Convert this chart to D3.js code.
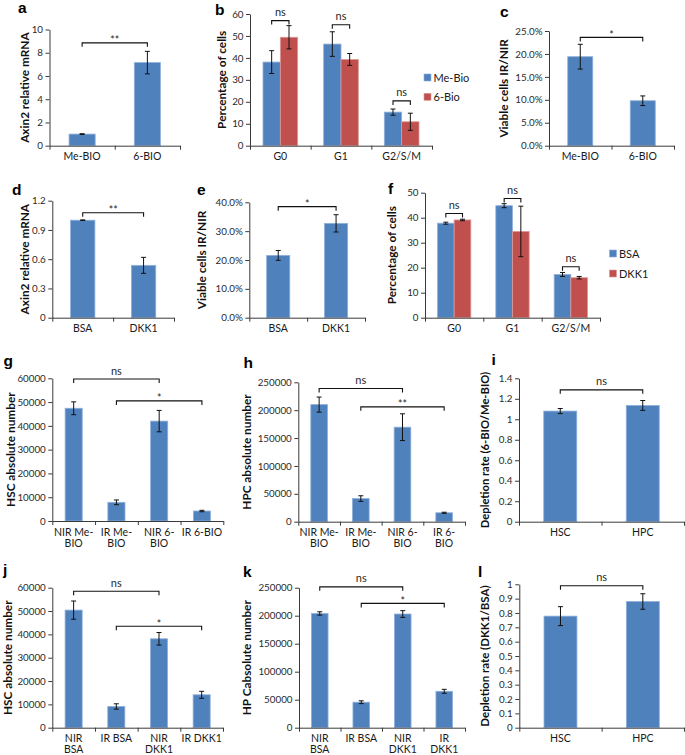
<!DOCTYPE html>
<html><head><meta charset="utf-8">
<script src="https://cdn.jsdelivr.net/npm/d3@7"></script>
<style>
body{margin:0;background:#fff;}
svg{display:block;font-family:Lato,"Open Sans",sans-serif;}
</style></head><body>
<svg id="fig" width="685" height="755"></svg>
<script>
// ---------- DATA ----------
const blue = "#4F81BD", red = "#C0504D";

// a
const aCats = [["Me-BIO"], ["6-BIO"]];
const aVals = [1.0, 7.15];
const aErr = [0.03, 0.97];
const aTicks = [0, 2, 4, 6, 8, 10];
const aSig = [{from: 0, to: 1, y: 8.85, t: "**"}];
// b
const bCats = [["G0"], ["G1"], ["G2/S/M"]];
const bSeries = ["Me-Bio", "6-Bio"];
const bMe = [38.1, 46.3, 15.3];
const bMeErr = [5.2, 5.6, 1.4];
const b6 = [49.4, 39.3, 10.9];
const b6Err = [5.3, 2.7, 3.9];
const bTicks = [0, 10, 20, 30, 40, 50, 60];
const bSig = [{cat: 0, y: 57.0, t: "ns"}, {cat: 1, y: 55.1, t: "ns"}, {cat: 2, y: 20.4, t: "ns"}];
// c
const cCats = [["Me-BIO"], ["6-BIO"]];
const cVals = [0.194, 0.098];
const cErr = [0.027, 0.0105];
const cTicks = [0, 0.05, 0.10, 0.15, 0.20, 0.25];
const cSig = [{from: 0, to: 1, y: 0.236, t: "*"}];
// d
const dCats = [["BSA"], ["DKK1"]];
const dVals = [1.0, 0.537];
const dErr = [0.003, 0.082];
const dTicks = [0, 0.3, 0.6, 0.9, 1.2];
const dSig = [{from: 0, to: 1, y: 1.077, t: "**"}];
// e
const eCats = [["BSA"], ["DKK1"]];
const eVals = [0.216, 0.327];
const eErr = [0.017, 0.030];
const eTicks = [0, 0.1, 0.2, 0.3, 0.4];
const eSig = [{from: 0, to: 1, y: 0.385, t: "*"}];
// f
const fCats = [["G0"], ["G1"], ["G2/S/M"]];
const fSeries = ["BSA", "DKK1"];
const fBSA = [37.8, 44.8, 17.3];
const fBSAErr = [0.4, 0.8, 0.8];
const fDKK1 = [39.1, 34.5, 16.0];
const fDKK1Err = [0.3, 10.1, 0.5];
const fTicks = [0, 10, 20, 30, 40, 50];
const fSig = [{cat: 0, y: 41.7, t: "ns"}, {cat: 1, y: 47.7, t: "ns"}, {cat: 2, y: 20.4, t: "ns"}];
// g
const gCats = [["NIR Me-", "BIO"], ["IR Me-", "BIO"], ["NIR 6-", "BIO"], ["IR 6-BIO"]];
const gVals = [47400, 7850, 42000, 4200];
const gErr = [2700, 1000, 4500, 300];
const gTicks = [0, 10000, 20000, 30000, 40000, 50000, 60000];
const gSig = [{from: 0, to: 2, y: 59700, t: "ns"}, {from: 1, to: 3, y: 50500, t: "*"}];
// h
const hCats = [["NIR Me-", "BIO"], ["IR Me-", "BIO"], ["NIR 6-", "BIO"], ["IR 6-", "BIO"]];
const hVals = [210000, 41500, 169500, 16000];
const hErr = [13500, 5000, 24000, 1000];
const hTicks = [0, 50000, 100000, 150000, 200000, 250000];
const hSig = [{from: 0, to: 2, y: 239000, t: "ns"}, {from: 1, to: 3, y: 206000, t: "**"}];
// i
const iCats = [["HSC"], ["HPC"]];
const iVals = [1.08, 1.135];
const iErr = [0.025, 0.048];
const iTicks = [0, 0.2, 0.4, 0.6, 0.8, 1.0, 1.2, 1.4];
const iSig = [{from: 0, to: 1, y: 1.287, t: "ns"}];
// j
const jCats = [["NIR", "BSA"], ["IR BSA"], ["NIR", "DKK1"], ["IR DKK1"]];
const jVals = [50400, 9100, 38100, 14100];
const jErr = [3900, 1150, 2700, 1500];
const jTicks = [0, 10000, 20000, 30000, 40000, 50000, 60000];
const jSig = [{from: 0, to: 2, y: 58500, t: "ns"}, {from: 1, to: 3, y: 43500, t: "*"}];
// k
const kCats = [["NIR", "BSA"], ["IR BSA"], ["NIR", "DKK1"], ["IR", "DKK1"]];
const kVals = [204000, 45500, 203000, 65000];
const kErr = [3000, 2500, 6000, 3500];
const kTicks = [0, 50000, 100000, 150000, 200000, 250000];
const kSig = [{from: 0, to: 2, y: 251500, t: "ns"}, {from: 1, to: 3, y: 222000, t: "*"}];
// l
const lCats = [["HSC"], ["HPC"]];
const lVals = [0.778, 0.88];
const lErr = [0.066, 0.054];
const lTicks = [0, 0.1, 0.2, 0.3, 0.4, 0.5, 0.6, 0.7, 0.8, 0.9, 1.0];
const lSig = [{from: 0, to: 1, y: 0.99, t: "ns"}];

// ---------- DRAWING ----------
const svg = d3.select("#fig");
const numFmt = d => String(+d.toFixed(2));
const pctFmt = d3.format(".1%");

function panel(o) {
  const g = svg.append("g");
  const y = d3.scaleLinear().domain([0, d3.max(o.ticks)]).range([o.yBot, o.yTop]);
  const n = o.cats.length;
  const xb = d3.scaleBand().domain(d3.range(n)).range([o.x0, o.x1]);
  const xl = d3.scaleLinear().domain([0, n]).range([o.x0, o.x1]);
  const ns = o.series.length;
  const groupW = xb.bandwidth() * (ns === 1 ? 0.4 : 2 / 3.5);
  const xs = d3.scaleBand().domain(d3.range(ns)).range([-groupW / 2, groupW / 2]);
  const cx = (i, si) => xb(i) + xb.bandwidth() / 2 + xs(si) + xs.bandwidth() / 2;

  o.series.forEach((s, si) => {
    g.append("g").selectAll("rect").data(s.vals).join("rect")
      .attr("x", (d, i) => xb(i) + xb.bandwidth() / 2 + xs(si))
      .attr("width", xs.bandwidth())
      .attr("y", d => y(d)).attr("height", d => y(0) - y(d))
      .attr("fill", s.color).attr("stroke", s.edge).attr("stroke-width", 0.8);
  });
  // axes
  const ya = g.append("g").attr("transform", `translate(${o.x0},0)`)
    .call(d3.axisLeft(y).tickValues(o.ticks).tickFormat(o.fmt).tickSize(4).tickSizeOuter(0).tickPadding(2.5));
  const xa = g.append("g").attr("transform", `translate(0,${o.yBot})`)
    .call(d3.axisBottom(xl).tickValues(d3.range(n + 1)).tickFormat("").tickSize(4).tickSizeOuter(0));
  [ya, xa].forEach(a => {
    a.selectAll("path,line").attr("stroke", "#3a3a3a").attr("stroke-width", 1);
    a.selectAll("text").attr("fill", "#2a2a2a").attr("font-size", 9.8).attr("font-family", "Lato");
  });
  // error bars
  o.series.forEach((s, si) => {
    const eg = g.append("g").attr("stroke", "#111").attr("stroke-width", 1).attr("fill", "none");
    s.vals.forEach((v, i) => {
      const x = cx(i, si), e = s.errs[i];
      eg.append("line").attr("x1", x).attr("x2", x).attr("y1", y(v - e)).attr("y2", y(v + e));
      eg.append("line").attr("x1", x - 2.5).attr("x2", x + 2.5).attr("y1", y(v - e)).attr("y2", y(v - e));
      eg.append("line").attr("x1", x - 2.5).attr("x2", x + 2.5).attr("y1", y(v + e)).attr("y2", y(v + e));
    });
  });
  // category labels (one text per line)
  o.cats.forEach((lines, i) => {
    lines.forEach((ln, k) => {
      g.append("text").attr("text-anchor", "middle").attr("font-size", 10.5).attr("fill", "#1a1a1a")
        .attr("x", xb(i) + xb.bandwidth() / 2).attr("y", o.yBot + 14.5 + k * 11.2).text(ln);
    });
  });
  // significance brackets
  o.sig.forEach(s => {
    let xa1, xa2;
    if (s.cat !== undefined) { xa1 = cx(s.cat, 0); xa2 = cx(s.cat, 1); }
    else { xa1 = cx(s.from, 0); xa2 = cx(s.to, 0); }
    const yy = y(s.y);
    g.append("path").attr("d", `M${xa1},${yy + 4}V${yy}H${xa2}V${yy + 4}`)
      .attr("fill", "none").attr("stroke", "#111").attr("stroke-width", 1.1);
    g.append("text").attr("x", (xa1 + xa2) / 2).attr("y", s.t === "ns" ? yy - 4.5 : yy + 1.5)
      .attr("text-anchor", "middle").attr("font-size", s.t === "ns" ? 11 : 10.5).attr("fill", "#2a2a2a").text(s.t);
  });
  // y title
  g.append("text").attr("transform", `translate(${o.tx},${(o.yTop + o.yBot) / 2}) rotate(-90)`)
    .attr("text-anchor", "middle").attr("dominant-baseline", "central")
    .attr("font-weight", 700).attr("font-size", o.tfs || 11.8).attr("fill", "#111").text(o.title);
  // panel letter
  g.append("text").attr("x", o.lx).attr("y", o.ly).attr("font-family", "Liberation Sans, Arial")
    .attr("font-weight", 700).attr("font-size", 15.5).attr("fill", "#000").text(o.letter);
  // legend
  if (o.legend) {
    o.series.forEach((s, si) => {
      const ly = o.legend.y + si * o.legend.dy;
      g.append("rect").attr("x", o.legend.x).attr("y", ly).attr("width", 7).attr("height", 7)
        .attr("fill", s.color).attr("stroke", s.edge).attr("stroke-width", 0.6);
      g.append("text").attr("x", o.legend.x + 9.5).attr("y", ly + 3.5).attr("dominant-baseline", "central")
        .attr("font-size", 11).attr("fill", "#1a1a1a").text(s.name);
    });
  }
}

const one = (vals, errs) => [{name: "", vals, errs, color: blue, edge: "#8fb0da"}];

panel({letter: "a", lx: 18, ly: 13, title: "Axin2 relative mRNA", tx: 24,
  x0: 49.5, x1: 180, yTop: 29.5, yBot: 145.7, ticks: aTicks, fmt: numFmt,
  cats: aCats, series: one(aVals, aErr), sig: aSig});
panel({letter: "b", lx: 215, ly: 14.5, title: "Percentage of cells", tx: 221,
  x0: 250, x1: 432, yTop: 14, yBot: 145.7, ticks: bTicks, fmt: numFmt,
  cats: bCats, sig: bSig, legend: {x: 424, y: 74, dy: 19.3},
  series: [{name: bSeries[0], vals: bMe, errs: bMeErr, color: blue, edge: "#8fb0da"},
           {name: bSeries[1], vals: b6, errs: b6Err, color: red, edge: "#dc9a98"}]});
panel({letter: "c", lx: 500, ly: 16.5, title: "Viable cells IR/NIR", tx: 503,
  x0: 549, x1: 674, yTop: 31, yBot: 145.7, ticks: cTicks, fmt: pctFmt,
  cats: cCats, series: one(cVals, cErr), sig: cSig});
panel({letter: "d", lx: 12, ly: 195, title: "Axin2 relative mRNA", tx: 24,
  x0: 52.3, x1: 174, yTop: 200.7, yBot: 317.7, ticks: dTicks, fmt: numFmt,
  cats: dCats, series: one(dVals, dErr), sig: dSig});
panel({letter: "e", lx: 197, ly: 195, title: "Viable cells IR/NIR", tx: 201,
  x0: 249.3, x1: 365, yTop: 202.3, yBot: 317.7, ticks: eTicks, fmt: pctFmt,
  cats: eCats, series: one(eVals, eErr), sig: eSig});
panel({letter: "f", lx: 388, ly: 194, title: "Percentage of cells", tx: 391.7,
  x0: 425, x1: 600, yTop: 192.7, yBot: 317.7, ticks: fTicks, fmt: numFmt,
  cats: fCats, sig: fSig, legend: {x: 609.5, y: 250, dy: 20},
  series: [{name: fSeries[0], vals: fBSA, errs: fBSAErr, color: blue, edge: "#8fb0da"},
           {name: fSeries[1], vals: fDKK1, errs: fDKK1Err, color: red, edge: "#dc9a98"}]});
panel({letter: "g", lx: 3.5, ly: 366, title: "HSC absolute number", tx: 10,
  x0: 52.3, x1: 223.3, yTop: 378.3, yBot: 521, ticks: gTicks, fmt: numFmt,
  cats: gCats, series: one(gVals, gErr), sig: gSig});
panel({letter: "h", lx: 243.5, ly: 368, title: "HPC absolute number", tx: 246.7,
  x0: 298.3, x1: 465, yTop: 382.3, yBot: 521.7, ticks: hTicks, fmt: numFmt,
  cats: hCats, series: one(hVals, hErr), sig: hSig});
panel({letter: "i", lx: 491.5, ly: 365, title: "Depletion rate (6-BIO/Me-BIO)", tx: 484, tfs: 11.2,
  x0: 519, x1: 684, yTop: 378.3, yBot: 521.7, ticks: iTicks, fmt: numFmt,
  cats: iCats, series: one(iVals, iErr), sig: iSig});
panel({letter: "j", lx: 3, ly: 575, title: "HSC absolute number", tx: 7,
  x0: 52.3, x1: 223, yTop: 587.7, yBot: 727.7, ticks: jTicks, fmt: numFmt,
  cats: jCats, series: one(jVals, jErr), sig: jSig});
panel({letter: "k", lx: 243, ly: 577, title: "HP Cabsolute number", tx: 246.7,
  x0: 299, x1: 465, yTop: 587.7, yBot: 727.7, ticks: kTicks, fmt: numFmt,
  cats: kCats, series: one(kVals, kErr), sig: kSig});
panel({letter: "l", lx: 478, ly: 577, title: "Depletion rate (DKK1/BSA)", tx: 484, tfs: 11.5,
  x0: 519.3, x1: 684, yTop: 584.3, yBot: 727.7, ticks: lTicks, fmt: numFmt,
  cats: lCats, series: one(lVals, lErr), sig: lSig});
</script>
</body></html>
